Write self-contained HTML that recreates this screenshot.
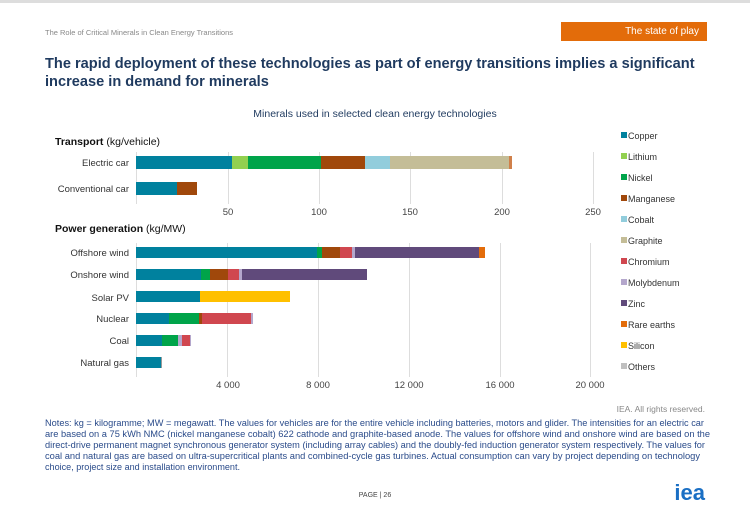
<!DOCTYPE html>
<html><head><meta charset="utf-8"><style>
body{margin:0;width:750px;height:506px;background:#fff;font-family:"Liberation Sans",sans-serif;overflow:hidden;position:relative}
.a{position:absolute;white-space:nowrap}
</style></head><body>
<div class="a" style="left:0;top:0;width:750px;height:3px;background:#ddd"></div>
<div class="a" style="left:45px;top:28px;font-size:7.5px;color:#888">The Role of Critical Minerals in Clean Energy Transitions</div>
<div class="a" style="left:561px;top:22px;width:146px;height:19px;background:#e36c0a;color:#fff;font-size:10px;line-height:19px;text-align:right;box-sizing:border-box;padding-right:8px">The state of play</div>
<div class="a" style="left:45px;top:55px;font-size:14.6px;font-weight:bold;color:#1f3a5f;line-height:18px">The rapid deployment of these technologies as part of energy transitions implies a significant<br>increase in demand for minerals</div>
<div class="a" style="left:0;width:750px;top:108px;text-align:center;font-size:10.5px;color:#1f3a5f">Minerals used in selected clean energy technologies</div>
<svg class="a" style="left:0;top:0" width="750" height="506" font-family="Liberation Sans, sans-serif">
<g stroke="#ddd" stroke-width="1">
<line x1="136.5" y1="152" x2="136.5" y2="204"/><line x1="228.5" y1="152" x2="228.5" y2="204"/><line x1="319.5" y1="152" x2="319.5" y2="204"/><line x1="410.5" y1="152" x2="410.5" y2="204"/><line x1="502.5" y1="152" x2="502.5" y2="204"/><line x1="593.5" y1="152" x2="593.5" y2="204"/>
<line x1="136.5" y1="243" x2="136.5" y2="377"/><line x1="227.5" y1="243" x2="227.5" y2="377"/><line x1="318.5" y1="243" x2="318.5" y2="377"/><line x1="409.5" y1="243" x2="409.5" y2="377"/><line x1="500.5" y1="243" x2="500.5" y2="377"/><line x1="590.5" y1="243" x2="590.5" y2="377"/>
</g>
<g font-size="9.5" fill="#444" text-anchor="middle">
<text x="228" y="215">50</text><text x="319" y="215">100</text><text x="410" y="215">150</text><text x="502" y="215">200</text><text x="593" y="215">250</text>
<text x="228" y="388">4 000</text><text x="318" y="388">8 000</text><text x="409" y="388">12 000</text><text x="500" y="388">16 000</text><text x="590" y="388">20 000</text>
</g>
<text x="55" y="145" font-size="10.5" fill="#111"><tspan font-weight="bold">Transport</tspan> (kg/vehicle)</text>
<text x="55" y="232" font-size="10.5" fill="#111"><tspan font-weight="bold">Power generation</tspan> (kg/MW)</text>
<g font-size="9.5" fill="#333" text-anchor="end">
<text x="129" y="166">Electric car</text><text x="129" y="192">Conventional car</text>
<text x="129" y="256">Offshore wind</text><text x="129" y="278">Onshore wind</text><text x="129" y="301">Solar PV</text><text x="129" y="322">Nuclear</text><text x="129" y="344">Coal</text><text x="129" y="366">Natural gas</text>
</g>
<g>
<rect x="136" y="156" width="96" height="13" fill="#00819e"/>
<rect x="232" y="156" width="16" height="13" fill="#92d050"/>
<rect x="248" y="156" width="73" height="13" fill="#00a44a"/>
<rect x="321" y="156" width="44" height="13" fill="#a0480b"/>
<rect x="365" y="156" width="25" height="13" fill="#92cddc"/>
<rect x="390" y="156" width="119" height="13" fill="#c4bd97"/>
<rect x="509" y="156" width="3" height="13" fill="#d0804a"/>
<rect x="136" y="182" width="41" height="13" fill="#00819e"/>
<rect x="177" y="182" width="20" height="13" fill="#a0480b"/>
</g>
<g>
<rect x="136" y="247" width="181" height="11" fill="#00819e"/>
<rect x="317" y="247" width="5" height="11" fill="#00a44a"/>
<rect x="322" y="247" width="18" height="11" fill="#a0480b"/>
<rect x="340" y="247" width="12" height="11" fill="#d0474f"/>
<rect x="352" y="247" width="3" height="11" fill="#b4a7cc"/>
<rect x="355" y="247" width="124" height="11" fill="#604a7b"/>
<rect x="479" y="247" width="6" height="11" fill="#e36c0a"/>
<rect x="136" y="269" width="65" height="11" fill="#00819e"/>
<rect x="201" y="269" width="9" height="11" fill="#00a44a"/>
<rect x="210" y="269" width="18" height="11" fill="#a0480b"/>
<rect x="228" y="269" width="11" height="11" fill="#d0474f"/>
<rect x="239" y="269" width="3" height="11" fill="#b4a7cc"/>
<rect x="242" y="269" width="125" height="11" fill="#604a7b"/>
<rect x="136" y="291" width="64" height="11" fill="#00819e"/>
<rect x="200" y="291" width="90" height="11" fill="#ffc000"/>
<rect x="136" y="313" width="33" height="11" fill="#00819e"/>
<rect x="169" y="313" width="30" height="11" fill="#00a44a"/>
<rect x="199" y="313" width="3" height="11" fill="#a0480b"/>
<rect x="202" y="313" width="49" height="11" fill="#d0474f"/>
<rect x="251" y="313" width="2" height="11" fill="#b4a7cc"/>
<rect x="136" y="335" width="26" height="11" fill="#00819e"/>
<rect x="162" y="335" width="16" height="11" fill="#00a44a"/>
<rect x="178" y="335" width="4" height="11" fill="#b4a7cc"/>
<rect x="182" y="335" width="8" height="11" fill="#d0474f"/>
<rect x="190" y="335" width="1" height="11" fill="#b4a7cc"/>
<rect x="136" y="357" width="25" height="11" fill="#00819e"/>
<rect x="161" y="357" width="1" height="11" fill="#999"/>
</g>
<g font-size="9" fill="#333">
<rect x="621" y="132" width="6" height="6" fill="#00819e"/><text x="628" y="139">Copper</text>
<rect x="621" y="153" width="6" height="6" fill="#92d050"/><text x="628" y="160">Lithium</text>
<rect x="621" y="174" width="6" height="6" fill="#00a44a"/><text x="628" y="181">Nickel</text>
<rect x="621" y="195" width="6" height="6" fill="#a0480b"/><text x="628" y="202">Manganese</text>
<rect x="621" y="216" width="6" height="6" fill="#92cddc"/><text x="628" y="223">Cobalt</text>
<rect x="621" y="237" width="6" height="6" fill="#c4bd97"/><text x="628" y="244">Graphite</text>
<rect x="621" y="258" width="6" height="6" fill="#d0474f"/><text x="628" y="265">Chromium</text>
<rect x="621" y="279" width="6" height="6" fill="#b4a7cc"/><text x="628" y="286">Molybdenum</text>
<rect x="621" y="300" width="6" height="6" fill="#604a7b"/><text x="628" y="307">Zinc</text>
<rect x="621" y="321" width="6" height="6" fill="#e36c0a"/><text x="628" y="328">Rare earths</text>
<rect x="621" y="342" width="6" height="6" fill="#ffc000"/><text x="628" y="349">Silicon</text>
<rect x="621" y="363" width="6" height="6" fill="#bfbfbf"/><text x="628" y="370">Others</text>
</g>
<text x="705" y="412" font-size="8.5" fill="#888" text-anchor="end">IEA. All rights reserved.</text>
<g font-size="8.8" fill="#2a4b8a">
<text x="45" y="426" textLength="659" lengthAdjust="spacingAndGlyphs">Notes: kg = kilogramme; MW = megawatt. The values for vehicles are for the entire vehicle including batteries, motors and glider. The intensities for an electric car</text>
<text x="45" y="437" textLength="665" lengthAdjust="spacingAndGlyphs">are based on a 75 kWh NMC (nickel manganese cobalt) 622 cathode and graphite-based anode. The values for offshore wind and onshore wind are based on the</text>
<text x="45" y="448" textLength="660" lengthAdjust="spacingAndGlyphs">direct-drive permanent magnet synchronous generator system (including array cables) and the doubly-fed induction generator system respectively. The values for</text>
<text x="45" y="459" textLength="655" lengthAdjust="spacingAndGlyphs">coal and natural gas are based on ultra-supercritical plants and combined-cycle gas turbines. Actual consumption can vary by project depending on technology</text>
<text x="45" y="470" textLength="195" lengthAdjust="spacingAndGlyphs">choice, project size and installation environment.</text>
</g>
<text x="375" y="497" font-size="7" fill="#444" text-anchor="middle">PAGE | 26</text>
<text x="705" y="500" font-size="22" font-weight="bold" fill="#1a6fc4" text-anchor="end">iea</text>
</svg>
</body></html>
